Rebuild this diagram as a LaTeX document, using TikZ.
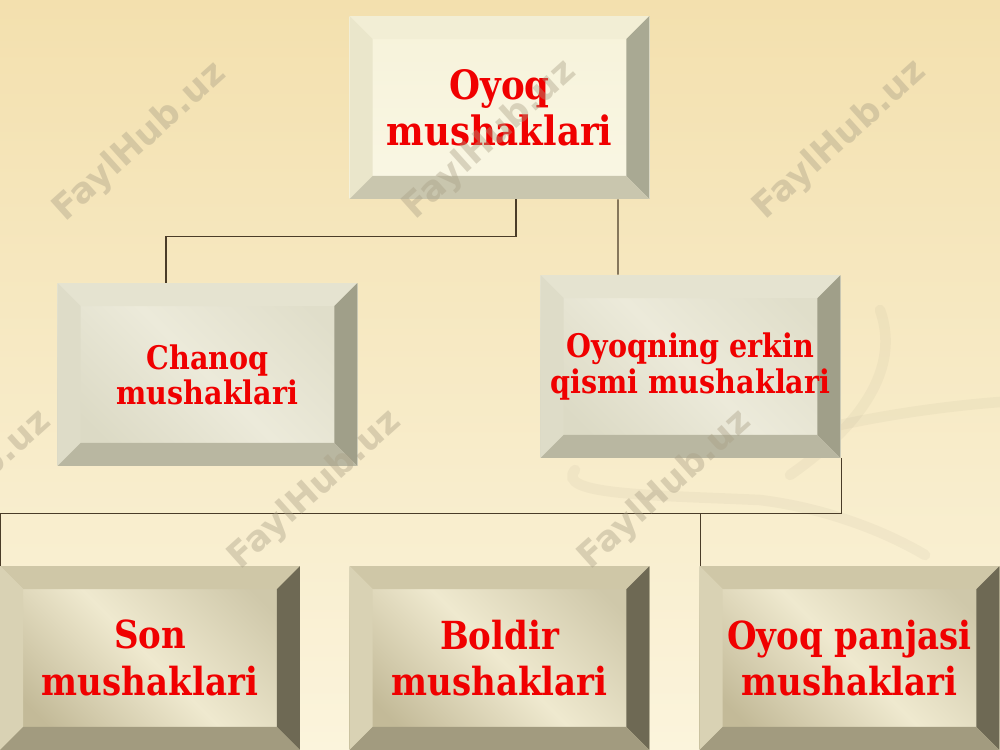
\documentclass[tikz,border=0pt]{standalone}
\usepackage{fontspec}
\setmainfont{DejaVu Serif}[FakeStretch=0.88]
\setsansfont{DejaVu Sans}
\usetikzlibrary{positioning}

\definecolor{bgtop}{HTML}{F3E0AE}
\definecolor{bgbot}{HTML}{FBF4DC}
\definecolor{txtred}{HTML}{F00000}
\definecolor{wire}{HTML}{4A3C28}
\definecolor{wmgray}{HTML}{A89E84}
% top box
\definecolor{tfaceA}{HTML}{F6F2DA}
\definecolor{tfaceB}{HTML}{FAF7E4}
\definecolor{tbevT}{HTML}{F2EED5}
\definecolor{tbevL}{HTML}{EAE6CB}
\definecolor{tbevR}{HTML}{A9A993}
\definecolor{tbevB}{HTML}{C9C6AE}
% middle boxes
\definecolor{mfaceA}{HTML}{DCDAC5}
\definecolor{mfaceB}{HTML}{E0DECA}
\definecolor{mfaceC}{HTML}{ECEADA}
\definecolor{mbevT}{HTML}{E5E3D0}
\definecolor{mbevL}{HTML}{DEDCC8}
\definecolor{mbevR}{HTML}{A09F89}
\definecolor{mbevB}{HTML}{B9B7A1}
% bottom boxes
\definecolor{lfaceA}{HTML}{C3BA98}
\definecolor{lfaceB}{HTML}{CFC8AA}
\definecolor{lfaceC}{HTML}{EFE9CF}
\definecolor{lbevT}{HTML}{CFC7A7}
\definecolor{lbevL}{HTML}{D9D2B4}
\definecolor{lbevR}{HTML}{6E6954}
\definecolor{lbevB}{HTML}{A29B7F}

\tikzset{
  bevel/.style n args={4}{path picture={
    \def\pb{path picture bounding box}
    \fill[#1] (\pb.north west) -- (\pb.north east) -- ([shift={(-0.46cm,-0.46cm)}]\pb.north east) -- ([shift={(0.46cm,-0.46cm)}]\pb.north west) -- cycle;
    \fill[#2] (\pb.north west) -- (\pb.south west) -- ([shift={(0.46cm,0.46cm)}]\pb.south west) -- ([shift={(0.46cm,-0.46cm)}]\pb.north west) -- cycle;
    \fill[#3] (\pb.north east) -- (\pb.south east) -- ([shift={(-0.46cm,0.46cm)}]\pb.south east) -- ([shift={(-0.46cm,-0.46cm)}]\pb.north east) -- cycle;
    \fill[#4] (\pb.south west) -- (\pb.south east) -- ([shift={(-0.46cm,0.46cm)}]\pb.south east) -- ([shift={(0.46cm,0.46cm)}]\pb.south west) -- cycle;
  }},
  box/.style={rectangle, minimum width=6cm, minimum height=3.66cm, inner sep=0pt,
    align=center, text=txtred, font=\bfseries},
  topbox/.style={box, top color=tfaceA, bottom color=tfaceB,
    bevel={tbevT}{tbevL}{tbevR}{tbevB},
    font=\bfseries\fontsize{23}{26}\selectfont},
  midbox/.style={box, left color=mfaceA, right color=mfaceB, middle color=mfaceC,
    shading angle=135, bevel={mbevT}{mbevL}{mbevR}{mbevB},
    font=\bfseries\fontsize{18.5}{20}\selectfont},
  lowbox/.style={box, minimum height=3.68cm, left color=lfaceA, right color=lfaceB,
    middle color=lfaceC, shading angle=135,
    bevel={lbevT}{lbevL}{lbevR}{lbevB},
    font=\bfseries\fontsize{22}{26.5}\selectfont},
  conn/.style={draw=wire, line width=0.7pt},
  wmark/.style={text=wmgray, opacity=0.4, rotate=42, font=\sffamily\bfseries\fontsize{20}{20}\selectfont},
  swirl/.style={draw=wmgray, line width=6pt, opacity=0.09, line cap=round}
}

\begin{document}
\begin{tikzpicture}[x=0.02cm, y=-0.02cm]
\useasboundingbox (0,0) rectangle (1000,750);
\shade[top color=bgtop, bottom color=bgbot] (0,0) rectangle (1000,750);
% faint background flourish
\draw[swirl] (880,310) .. controls (905,380) and (840,440) .. (790,475);
\draw[swirl] (840,425) .. controls (900,412) and (960,405) .. (1000,402);
\draw[swirl] (575,470) .. controls (555,495) and (650,495) .. (760,500) .. controls (840,510) and (900,540) .. (925,555);

\node[topbox] (oyoq) at (499.5,107.5) {Oyoq\\mushaklari};
\node[midbox] (chanoq) at (207.5,374.5) {Chanoq\\mushaklari};
\node[midbox] (erkin) at (690.5,366.5) {Oyoqning erkin\\qismi mushaklari};
\node[lowbox] (son) at (150,658) {Son\\mushaklari};
\node[lowbox] (boldir) at (499.5,658) {Boldir\\mushaklari};
\node[lowbox] (panjasi) at (849.5,658) {Oyoq panjasi\\mushaklari};

\draw[conn] ([xshift=0.33cm]oyoq.south) -- ++(0,37) -| ([xshift=-0.83cm]chanoq.north);
\draw[conn] ([xshift=2.37cm]oyoq.south) -- ([xshift=-1.45cm]erkin.north);
\draw[conn] ([xshift=0.02cm]erkin.south east) -- ++(0,55) coordinate (split) -| ([xshift=0.02cm]son.north west);
\draw[conn] (split) -| ([xshift=0.02cm]panjasi.north west);

\foreach \wx/\wy [count=\i] in {140/142, 490/140, 840/140, -35/490, 315/490, 665/490}
  \node[wmark] (wm\i) at (\wx,\wy) {FaylHub.uz};
\end{tikzpicture}
\end{document}
